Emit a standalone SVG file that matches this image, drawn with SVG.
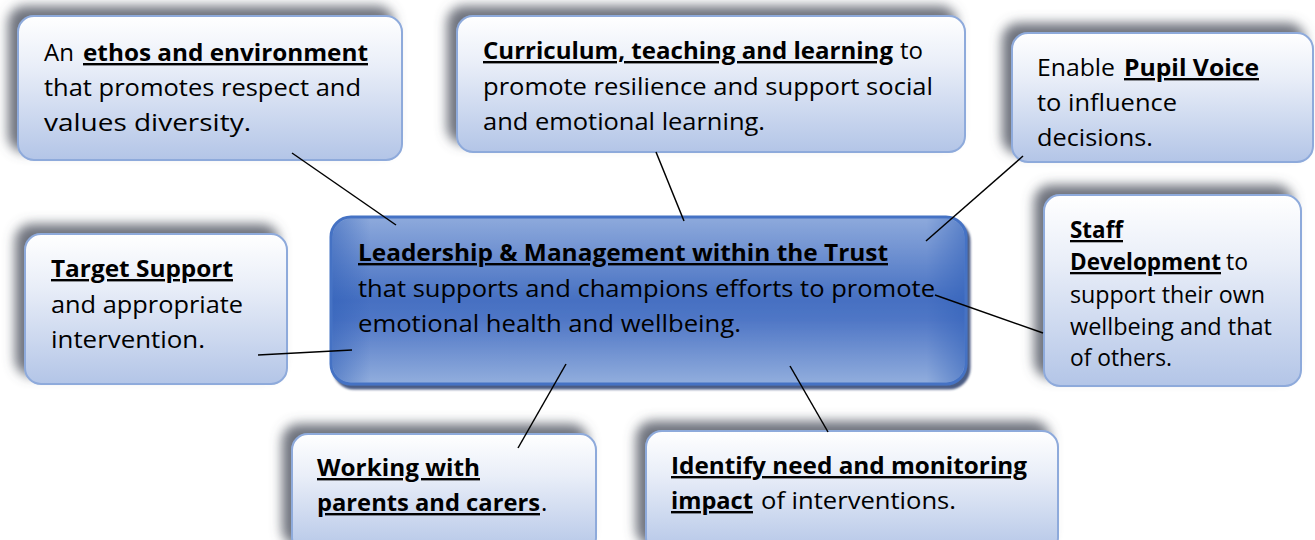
<svg xmlns="http://www.w3.org/2000/svg" width="1315" height="540" viewBox="0 0 1315 540">
<defs>
<linearGradient id="gBox" x1="0" y1="0" x2="0" y2="1">
<stop offset="0" stop-color="#ffffff"/>
<stop offset="0.35" stop-color="#e9eef8"/>
<stop offset="1" stop-color="#b3c5e7"/>
</linearGradient>
<linearGradient id="gCenter" x1="0" y1="0" x2="0" y2="1">
<stop offset="0" stop-color="#8eaadc"/>
<stop offset="0.5" stop-color="#4670c2"/>
<stop offset="0.62" stop-color="#5077c6"/>
<stop offset="1" stop-color="#92aedd"/>
</linearGradient>
<linearGradient id="gEdge" x1="0" y1="0" x2="1" y2="0">
<stop offset="0" stop-color="#2f5fb8" stop-opacity="0.5"/>
<stop offset="0.06" stop-color="#2f5fb8" stop-opacity="0"/>
<stop offset="0.94" stop-color="#2f5fb8" stop-opacity="0"/>
<stop offset="1" stop-color="#2f5fb8" stop-opacity="0.5"/>
</linearGradient>
<filter id="sh" x="-20%" y="-30%" width="140%" height="160%">
<feGaussianBlur in="SourceAlpha" stdDeviation="6"/>
<feOffset dx="-9" dy="-9" result="b"/>
<feFlood flood-color="#555a66" flood-opacity="0.85"/>
<feComposite in2="b" operator="in"/>
<feMerge><feMergeNode/><feMergeNode in="SourceGraphic"/></feMerge>
</filter>
<filter id="sh2" x="-10%" y="-10%" width="120%" height="130%">
<feGaussianBlur in="SourceAlpha" stdDeviation="1"/>
<feOffset dx="3" dy="4" result="b"/>
<feFlood flood-color="#2c3f6e" flood-opacity="0.85"/>
<feComposite in2="b" operator="in"/>
<feMerge><feMergeNode/><feMergeNode in="SourceGraphic"/></feMerge>
</filter>
</defs>
<style>
.box{fill:url(#gBox);stroke:#8eaadb;stroke-width:2;filter:url(#sh)}
.center{fill:url(#gCenter);stroke:#4472c4;stroke-width:3;filter:url(#sh2)}
text{font-family:"Open Sans","Liberation Sans",sans-serif;font-size:24px;fill:#000}
.b{font-weight:bold;text-decoration:underline}
.s{font-size:23px}
.c line{stroke:#000;stroke-width:1.5}
</style>
<rect width="1315" height="540" fill="#ffffff"/>

<g id="ethos">
<rect class="box" x="18" y="16" width="384" height="144" rx="16"/>
<text x="44" y="61">An</text>
<text class="b" x="83" y="61" textLength="285" lengthAdjust="spacingAndGlyphs">ethos and environment</text>
<text x="44" y="96" textLength="317" lengthAdjust="spacingAndGlyphs">that promotes respect and</text>
<text x="44" y="131" textLength="207" lengthAdjust="spacingAndGlyphs">values diversity.</text>
</g>

<g id="curriculum">
<rect class="box" x="457" y="16" width="508" height="136" rx="16"/>
<text class="b" x="483" y="59" textLength="410" lengthAdjust="spacingAndGlyphs">Curriculum, teaching and learning</text>
<text x="900" y="59">to</text>
<text x="483" y="95" textLength="450" lengthAdjust="spacingAndGlyphs">promote resilience and support social</text>
<text x="483" y="130" textLength="282" lengthAdjust="spacingAndGlyphs">and emotional learning.</text>
</g>

<g id="pupil-voice">
<rect class="box" x="1012" y="33" width="301" height="129" rx="16"/>
<text x="1037" y="76" textLength="78" lengthAdjust="spacingAndGlyphs">Enable</text>
<text class="b" x="1124" y="76" textLength="135" lengthAdjust="spacingAndGlyphs">Pupil Voice</text>
<text x="1037" y="111" textLength="140" lengthAdjust="spacingAndGlyphs">to influence</text>
<text x="1037" y="146" textLength="116" lengthAdjust="spacingAndGlyphs">decisions.</text>
</g>

<g id="staff">
<rect class="box" x="1044" y="195" width="257" height="191" rx="16"/>
<text class="b s" x="1070" y="238" textLength="53" lengthAdjust="spacingAndGlyphs">Staff</text>
<text class="b s" x="1070" y="270" textLength="151" lengthAdjust="spacingAndGlyphs">Development</text>
<text class="s" x="1226" y="270">to</text>
<text class="s" x="1070" y="303" textLength="195" lengthAdjust="spacingAndGlyphs">support their own</text>
<text class="s" x="1070" y="335" textLength="202" lengthAdjust="spacingAndGlyphs">wellbeing and that</text>
<text class="s" x="1070" y="366" textLength="102" lengthAdjust="spacingAndGlyphs">of others.</text>
</g>

<g id="leadership">
<rect class="center" x="331" y="217" width="635" height="167" rx="20"/>
<rect x="332.5" y="218.5" width="632" height="164" rx="19" fill="url(#gEdge)"/>
<text class="b" x="358" y="261" textLength="530" lengthAdjust="spacingAndGlyphs">Leadership &amp; Management within the Trust</text>
<text x="358" y="297" textLength="577" lengthAdjust="spacingAndGlyphs">that supports and champions efforts to promote</text>
<text x="358" y="332" textLength="383" lengthAdjust="spacingAndGlyphs">emotional health and wellbeing.</text>
</g>

<g id="target">
<rect class="box" x="25" y="234" width="262" height="150" rx="16"/>
<text class="b" x="51" y="277" textLength="182" lengthAdjust="spacingAndGlyphs">Target Support</text>
<text x="51" y="313" textLength="192" lengthAdjust="spacingAndGlyphs">and appropriate</text>
<text x="51" y="348" textLength="154" lengthAdjust="spacingAndGlyphs">intervention.</text>
</g>

<g id="parents">
<rect class="box" x="292" y="434" width="304" height="120" rx="16"/>
<text class="b" x="317" y="476" textLength="163" lengthAdjust="spacingAndGlyphs">Working with</text>
<text class="b" x="317" y="511" textLength="223" lengthAdjust="spacingAndGlyphs">parents and carers</text>
<text x="541" y="511">.</text>
</g>

<g id="identify">
<rect class="box" x="646" y="431" width="412" height="123" rx="16"/>
<text class="b" x="671" y="474" textLength="356" lengthAdjust="spacingAndGlyphs">Identify need and monitoring</text>
<text class="b" x="671" y="509" textLength="82" lengthAdjust="spacingAndGlyphs">impact</text>
<text x="761" y="509" textLength="195" lengthAdjust="spacingAndGlyphs">of interventions.</text>
</g>

<g id="connectors" class="c">
<line x1="292" y1="153" x2="396" y2="225"/>
<line x1="656" y1="152" x2="684" y2="221"/>
<line x1="1023" y1="156" x2="926" y2="241"/>
<line x1="935" y1="295" x2="1043" y2="333"/>
<line x1="258" y1="355" x2="352" y2="350"/>
<line x1="566" y1="364" x2="518" y2="448"/>
<line x1="790" y1="366" x2="828" y2="432"/>
</g>
</svg>
